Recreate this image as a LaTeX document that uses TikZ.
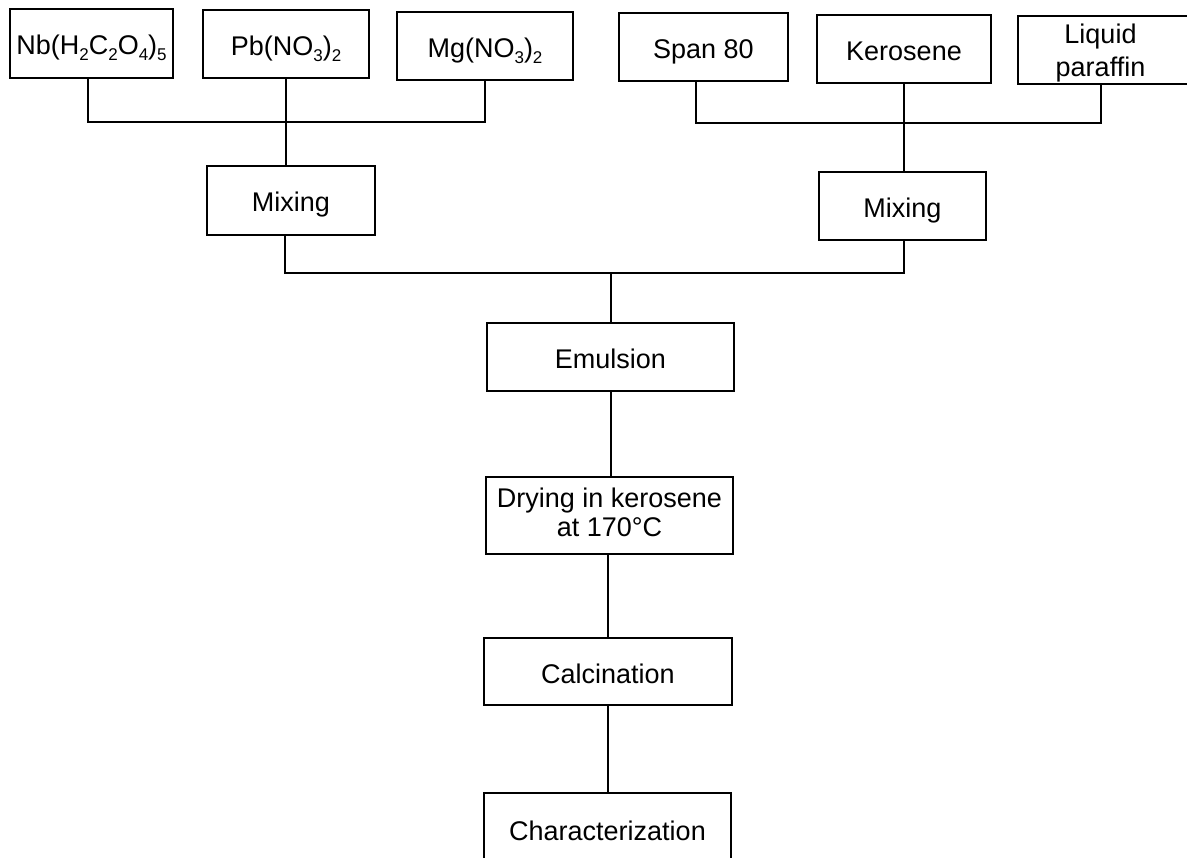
\documentclass[tikz,border=0pt]{standalone}
\usepackage{fontspec}
\setmainfont{Liberation Sans}
\newcommand{\chsb}[1]{\raisebox{-0.22em}{\fontsize{17}{17}\selectfont #1}}
\begin{document}
\begin{tikzpicture}[x=1pt,y=-1pt,
  box/.style={draw, line width=1.4pt, inner sep=0pt, align=center,
    text height=23pt, text depth=0pt,
    font=\fontsize{27}{32}\selectfont},
  conn/.style={line width=2.6pt}]
\useasboundingbox (0,0) rectangle (1187,858);
% top row
\node[box, minimum width=163, minimum height=69] (nb) at (91.5,43.5) {Nb(H\chsb{2}C\chsb{2}O\chsb{4})\chsb{5}};
\node[box, minimum width=166, minimum height=68] (pb) at (286,44) {Pb(NO\chsb{3})\chsb{2}};
\node[box, minimum width=176, minimum height=68] (mg) at (485,46) {Mg(NO\chsb{3})\chsb{2}};
\node[box, minimum width=169, minimum height=68] (span) at (703.5,47) {Span 80};
\node[box, minimum width=174, minimum height=68] (ker) at (904,49) {Kerosene};
\node[box, minimum width=177, minimum height=68, text height=53pt, font=\fontsize{27}{33}\selectfont] (liq) at (1106.5,50) {\hspace*{-12pt}Liquid\\\hspace*{-12pt}paraffin};
% mixing
\node[box, minimum width=168, minimum height=69] (mix1) at (291,200.5) {Mixing};
\node[box, minimum width=167, minimum height=68] (mix2) at (902.5,206) {Mixing};
% chain
\node[box, minimum width=247, minimum height=68] (emul) at (610.5,357) {Emulsion};
\node[box, minimum width=247, minimum height=77, text height=42pt, font=\fontsize{27}{29}\selectfont] (dry) at (609.5,515.5) {Drying in kerosene\\at 170°C};
\node[box, minimum width=248, minimum height=67] (calc) at (608,671.5) {Calcination};
\node[box, minimum width=247, minimum height=77, text height=17pt] (char) at (607.5,831.5) {Characterization};
% junctions
\coordinate (j1) at (286,122);
\coordinate (j2) at (904,123);
\coordinate (j3) at (611,273);
% connectors
\draw[conn] ([xshift=-3.5]nb.south) |- (j1) -| (mg.south);
\draw[conn] (pb.south) -- (pb.south |- mix1.north);
\draw[conn] ([xshift=-7.5]span.south) |- (j2) -| ([xshift=-5.5]liq.south);
\draw[conn] (ker.south) -- (ker.south |- mix2.north);
\draw[conn] ([xshift=-6]mix1.south) |- (j3) -| (ker.south |- mix2.south);
\draw[conn] (j3) -- (j3 |- emul.north);
\draw[conn] (j3 |- emul.south) -- (j3 |- dry.north);
\draw[conn] (calc.north |- dry.south) -- (calc.north);
\draw[conn] (calc.south) -- (calc.south |- char.north);
\end{tikzpicture}
\end{document}
